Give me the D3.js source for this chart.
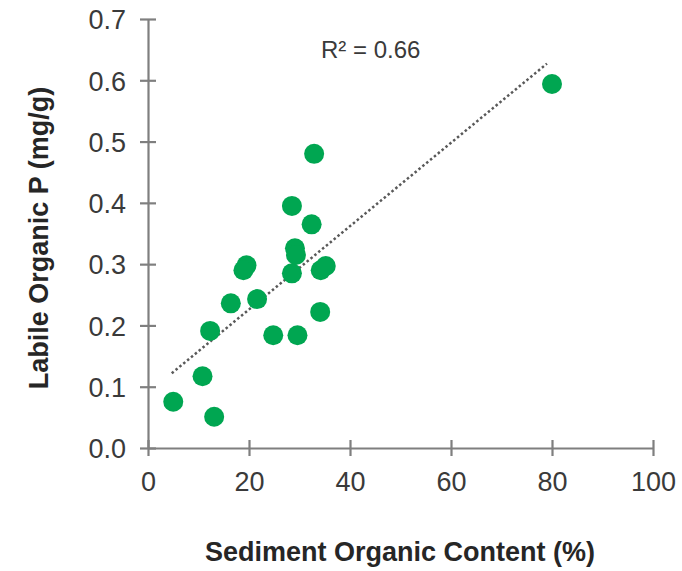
<!DOCTYPE html>
<html>
<head>
<meta charset="utf-8">
<script src="https://cdn.jsdelivr.net/npm/d3@7"></script>
<style>
  body { margin: 0; background: #fff; }
  text { font-family: "Liberation Sans", Arial, sans-serif; }
</style>
</head>
<body>
<script>
var width = 682;
var height = 571;

// values
var organicContent = [32.9, 28.5, 32.4, 29.1, 29.3, 19.5, 18.9, 28.5, 34.2, 35.2,
                      16.4, 21.6, 34.1, 12.3, 24.8, 29.6, 10.8, 5.0, 13.1, 80.0];
var labileP = [0.480, 0.395, 0.365, 0.326, 0.315, 0.298, 0.290, 0.285, 0.290, 0.297,
               0.236, 0.243, 0.222, 0.191, 0.184, 0.184, 0.117, 0.0755, 0.051, 0.594];
var xTicks = [0, 20, 40, 60, 80, 100];
var yTicks = [0, 0.1, 0.2, 0.3, 0.4, 0.5, 0.6, 0.7];
var trendSlope = 0.0068;
var trendIntercept = 0.090;
var rSquaredLabel = "R² = 0.66";

var data = organicContent.map(function(x, i) {
    return { x: x, y: labileP[i] };
});

var svg = d3.select("body").append("svg")
    .attr("width", width)
    .attr("height", height);

var xScale = d3.scaleLinear()
    .domain([0, 100])
    .range([148, 653]);

var yScale = d3.scaleLinear()
    .domain([0, 0.7])
    .range([448, 19]);

var axisColor = "#7f7f7f";
var labelColor = "#3a3a3a";

// x axis with crossing ticks
var xAxis = svg.append("g")
    .attr("transform", "translate(0," + yScale(0) + ")")
    .call(d3.axisBottom(xScale).tickValues(xTicks).tickSize(0).tickFormat(d3.format("d")));
xAxis.select(".domain").attr("stroke", axisColor).attr("stroke-width", 2.2);
xAxis.selectAll(".tick").append("line")
    .attr("y1", -8).attr("y2", 8)
    .attr("stroke", axisColor).attr("stroke-width", 2.2);
xAxis.selectAll(".tick text")
    .attr("y", 43)
    .attr("dy", 0)
    .attr("fill", labelColor)
    .style("font-size", "27px");

// y axis
var yAxis = svg.append("g")
    .attr("transform", "translate(" + xScale(0) + ",0)")
    .call(d3.axisLeft(yScale).tickValues(yTicks).tickSize(0).tickFormat(d3.format(".1f")));
yAxis.select(".domain").attr("stroke", axisColor).attr("stroke-width", 2.2);
yAxis.selectAll(".tick").append("line")
    .attr("x1", -8).attr("x2", 8)
    .attr("stroke", axisColor).attr("stroke-width", 2.2);
yAxis.selectAll(".tick text")
    .attr("x", -22)
    .attr("dy", "0.36em")
    .attr("fill", labelColor)
    .style("font-size", "27px");

// trendline over the data range
var xr = d3.extent(data, function(d) { return d.x; });
svg.append("line")
    .attr("x1", xScale(xr[0] - 0.3))
    .attr("y1", yScale(trendSlope * (xr[0] - 0.3) + trendIntercept))
    .attr("x2", xScale(xr[1] - 1))
    .attr("y2", yScale(trendSlope * (xr[1] - 1) + trendIntercept))
    .attr("stroke", "#595959")
    .attr("stroke-width", 2.5)
    .attr("stroke-dasharray", "2.5,2.5");

svg.selectAll("circle")
    .data(data)
    .enter()
    .append("circle")
    .attr("cx", function(d) { return xScale(d.x); })
    .attr("cy", function(d) { return yScale(d.y); })
    .attr("r", 10)
    .attr("fill", "#00a651");

svg.append("text")
    .attr("x", 321)
    .attr("y", 58)
    .attr("fill", labelColor)
    .style("font-size", "24px")
    .text(rSquaredLabel);

svg.append("text")
    .attr("x", 400)
    .attr("y", 561)
    .attr("text-anchor", "middle")
    .attr("fill", "#262626")
    .style("font-size", "27px")
    .style("font-weight", "bold")
    .text("Sediment Organic Content (%)");

svg.append("text")
    .attr("transform", "translate(48,238) rotate(-90)")
    .attr("text-anchor", "middle")
    .attr("fill", "#262626")
    .style("font-size", "27px")
    .style("font-weight", "bold")
    .text("Labile Organic P (mg/g)");
</script>
</body>
</html>
